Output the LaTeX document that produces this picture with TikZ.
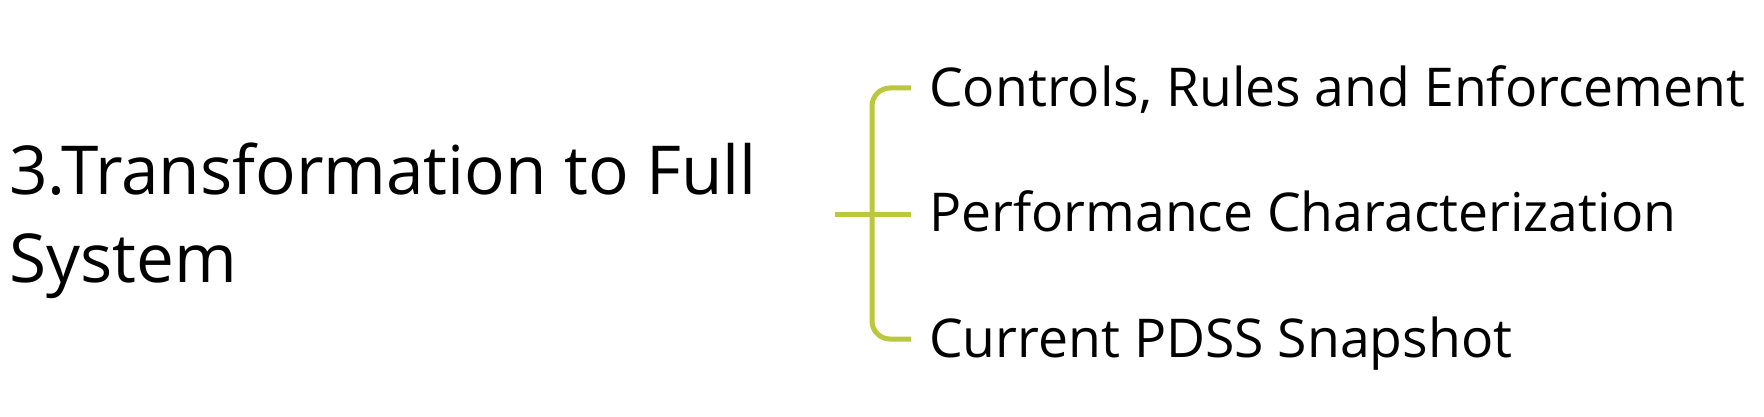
\documentclass[tikz,border=0pt]{standalone}
\usepackage{fontspec}
\setmainfont{Open Sans}
\definecolor{brk}{RGB}{187,200,60}
\tikzset{
  item/.style={anchor=base west, inner sep=0pt, font=\fontsize{53.5}{60}\selectfont, text=black},
  title/.style={anchor=base west, inner sep=0pt, align=left, font=\fontsize{67.5}{88}\selectfont, text=black},
  brline/.style={draw=brk, line width=5pt, rounded corners=18pt}
}
\begin{document}
\begin{tikzpicture}[x=1pt,y=1pt]
\useasboundingbox (0,0) rectangle (1764,416);
\node[title] (t) at (9,134) {3.Transformation to Full\\System};
\coordinate (m) at (835,202);
\coordinate (c) at (872,202);
\node[item] (a) at (929,309) {Controls, Rules and Enforcement};
\node[item] (b) at (929,185) {Performance Characterization};
\node[item] (d) at (929,59) {Current PDSS Snapshot};
\coordinate (ta) at (911,328);
\coordinate (tb) at (911,202);
\coordinate (td) at (911,77);
\draw[brline] (ta) -| (c) |- (td);
\draw[brline] (m) -- (tb);
\end{tikzpicture}
\end{document}
